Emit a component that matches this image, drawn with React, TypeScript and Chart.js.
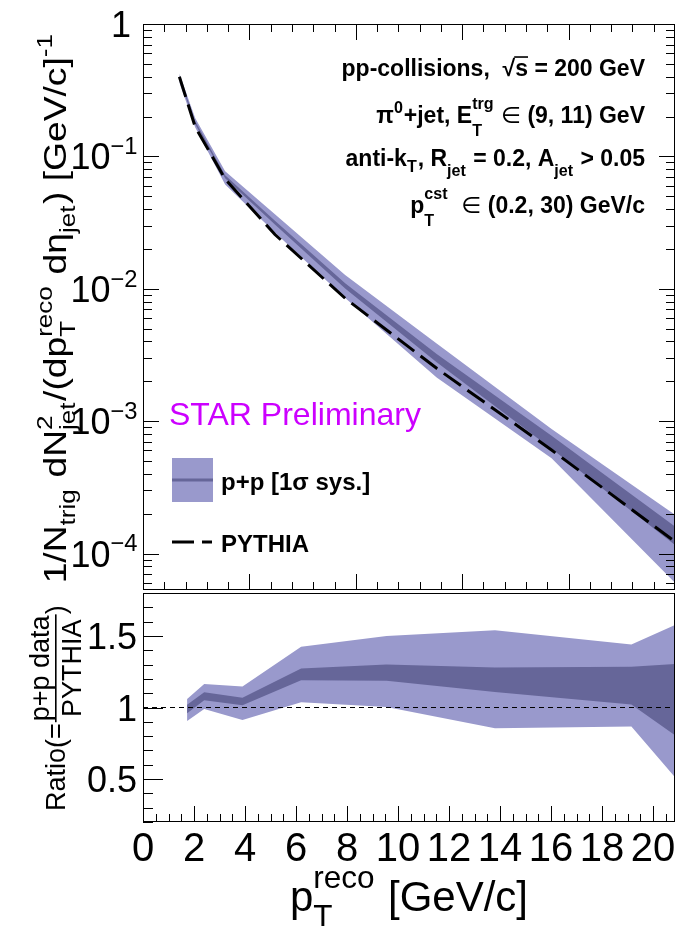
import React, { useEffect, useRef } from 'react';
import { Chart, registerables } from 'chart.js';
Chart.register(...registerables);

// ---------- data ----------
// upper panel: spectrum vs pT (GeV/c)
const ptTop = [1.71, 2.45, 3.86, 6.2, 9.5, 13.8, 19.2, 25];
const pythiaTop = [0.399, 0.1675, 0.0673, 0.0257, 0.00847, 0.002506, 0.000605, 0.000123];
const ppSysHi = [0.423, 0.195, 0.0772, 0.0366, 0.0127, 0.00386, 0.000871, 0.000196];
const ppInnerHi = [0.407, 0.1854, 0.0719, 0.0327, 0.011, 0.00321, 0.000777, 0.00016];
const ppInnerLo = [0.383, 0.1759, 0.0684, 0.0306, 0.01005, 0.00278, 0.000618, 0.000116];
const ppSysLo = [0.361, 0.1658, 0.0614, 0.02665, 0.0085, 0.00214, 0.000525, 0.00006];

// lower panel: ratio data / PYTHIA
const ptRatio = [1.73, 2.4, 3.9, 6.2, 9.55, 13.8, 19.15, 20.86];
const ratioSysHi = [1.06, 1.165, 1.147, 1.425, 1.5, 1.54, 1.44, 1.577];
const ratioInnerHi = [1.02, 1.107, 1.068, 1.273, 1.3, 1.28, 1.285, 1.304];
const ratioInnerLo = [0.96, 1.05, 1.016, 1.191, 1.187, 1.109, 1.021, 0.806];
const ratioSysLo = [0.905, 0.99, 0.913, 1.037, 1.004, 0.855, 0.868, 0.513];
const unityX = [0, 20.86];
const unityY = [1, 1];

// axes
const TOP_X_MIN = 0;
const TOP_X_MAX = 25;
const TOP_Y_MIN = 5.3e-5;
const TOP_Y_MAX = 1;
const RATIO_X_MIN = 0;
const RATIO_X_MAX = 20.86;
const RATIO_Y_MIN = 0.2;
const RATIO_Y_MAX = 1.8;

const topYTicks = [1, 0.1, 0.01, 0.001, 0.0001];
const topYBase = ['1', '10', '10', '10', '10'];
const topYExp = ['', '\u22121', '\u22122', '\u22123', '\u22124'];
const ratioTicks = [0.5, 1, 1.5];
const ratioTickLabels = ['0.5', '1', '1.5'];
const xTicks = [0, 2, 4, 6, 8, 10, 12, 14, 16, 18, 20];
const xTickLabels = ['0', '2', '4', '6', '8', '10', '12', '14', '16', '18', '20'];

// ---------- styles ----------
const LIGHT = 'rgb(153,153,204)';
const DARK = 'rgb(102,102,153)';
const MAGENTA = 'rgb(204,0,255)';
const FONT = '"Liberation Sans", Arial, Helvetica, "DejaVu Sans", sans-serif';
const NONE = 'rgba(0,0,0,0)';

type Seg = { t?: string; sup?: string; sub?: string; k?: number; up?: number; down?: number; over?: boolean; w?: string };

function segW(ctx: CanvasRenderingContext2D, s: Seg, base: number, w: string) {
  const ww = s.w ?? w;
  if (s.t !== undefined) {
    ctx.font = `${ww} ${base * (s.k ?? 1)}px ${FONT}`;
    return ctx.measureText(s.t).width;
  }
  const k = s.k ?? 0.7;
  ctx.font = `${ww} ${base * k}px ${FONT}`;
  return Math.max(s.sup ? ctx.measureText(s.sup).width : 0, s.sub ? ctx.measureText(s.sub).width : 0) + base * 0.04;
}

function drawRich(ctx: CanvasRenderingContext2D, segs: Seg[], x: number, y: number, base: number, w: string, align: string, color: string) {
  const ws = segs.map((s) => segW(ctx, s, base, w));
  const tot = ws.reduce((a, b) => a + b, 0);
  let cx = align === 'right' ? x - tot : align === 'center' ? x - tot / 2 : x;
  ctx.fillStyle = color;
  ctx.textAlign = 'left';
  ctx.textBaseline = 'alphabetic';
  segs.forEach((s, i) => {
    const ww = s.w ?? w;
    if (s.t !== undefined) {
      ctx.font = `${ww} ${base * (s.k ?? 1)}px ${FONT}`;
      ctx.fillText(s.t, cx, y);
      if (s.over) ctx.fillRect(cx - 1, y - base * 0.86, ws[i] + 1, Math.max(1.2, base * 0.07));
    } else {
      const k = s.k ?? 0.7;
      ctx.font = `${ww} ${base * k}px ${FONT}`;
      if (s.sup) ctx.fillText(s.sup, cx, y - base * (s.up ?? 0.45));
      if (s.sub) ctx.fillText(s.sub, cx, y + base * (s.down ?? 0.3));
    }
    cx += ws[i];
  });
  return tot;
}

function line(ctx: CanvasRenderingContext2D, x1: number, y1: number, x2: number, y2: number) {
  ctx.beginPath();
  ctx.moveTo(x1, y1);
  ctx.lineTo(x2, y2);
  ctx.stroke();
}

const crisp = (v: number) => Math.round(v) + 0.5;

const topDecor = {
  id: 'topDecor',
  afterDraw(chart: any) {
    const { ctx, chartArea: a, scales } = chart;
    const xs = scales.x;
    const ys = scales.y;
    ctx.save();
    ctx.strokeStyle = '#000';
    ctx.lineWidth = 1;
    ctx.strokeRect(a.left + 0.5, a.top + 0.5, a.right - a.left - 1, a.bottom - a.top - 1);
    // x ticks (top & bottom, inward)
    for (let v = TOP_X_MIN; v <= TOP_X_MAX; v++) {
      const px = crisp(xs.getPixelForValue(v));
      const len = v % 5 === 0 ? 16 : 8;
      line(ctx, px, a.bottom, px, a.bottom - len);
      line(ctx, px, a.top, px, a.top + len);
    }
    // log y ticks (left & right)
    for (let e = -5; e <= 0; e++) {
      for (let m = 1; m <= 9; m++) {
        const v = m * Math.pow(10, e);
        if (v < TOP_Y_MIN || v > TOP_Y_MAX * 1.0001) continue;
        const py = crisp(ys.getPixelForValue(v));
        const len = m === 1 ? 16 : 9;
        line(ctx, a.left, py, a.left + len, py);
        line(ctx, a.right, py, a.right - len, py);
      }
    }
    // y labels
    topYTicks.forEach((v, i) => {
      const py = ys.getPixelForValue(v);
      if (topYExp[i]) {
        drawRich(ctx, [{ t: topYBase[i] }, { sup: topYExp[i], k: 0.66, up: 0.42 }], 139, py + 13, 36, 'normal', 'right', '#000');
      } else {
        drawRich(ctx, [{ t: topYBase[i] }], 131, py + 13, 36, 'normal', 'right', '#000');
      }
    });
    // y title (rotated, slightly stretched along its length like the original)
    ctx.save();
    ctx.translate(66, 308);
    ctx.rotate(-Math.PI / 2);
    ctx.scale(1.2, 1);
    drawRich(
      ctx,
      [
        { t: '1/N' }, { sub: 'trig', down: 0.28 }, { t: ' dN' }, { sup: '2', sub: 'jet', up: 0.45, down: 0.28 },
        { t: '/(dp' }, { sup: 'reco', sub: 'T', up: 0.45, down: 0.28 }, { t: ' d\u03b7' }, { sub: 'jet', down: 0.28 },
        { t: ') [GeV/c]' }, { sup: '-1', up: 0.45 },
      ],
      0, 0, 31, 'normal', 'center', '#000'
    );
    ctx.restore();
    // annotations
    const RX = 645;
    const F = 23;
    drawRich(ctx, [{ t: 'pp-collisions,  ' }, { t: '\u221a' }, { t: 's', over: true }, { t: ' = 200 GeV' }], RX, 76, F, 'bold', 'right', '#000');
    drawRich(ctx, [{ t: '\u03c0' }, { sup: '0', up: 0.42 }, { t: '+jet, E' }, { sup: 'trg', sub: 'T', up: 0.6, down: 0.55 }, { t: ' \u2208', w: 'normal' }, { t: ' (9, 11) GeV' }], RX, 123, F, 'bold', 'right', '#000');
    drawRich(ctx, [{ t: 'anti-k' }, { sub: 'T', down: 0.25 }, { t: ', R' }, { sub: 'jet', down: 0.45 }, { t: ' = 0.2, A' }, { sub: 'jet', down: 0.45 }, { t: ' > 0.05' }], RX, 166, F, 'bold', 'right', '#000');
    drawRich(ctx, [{ t: 'p' }, { sup: 'cst', sub: 'T', up: 0.6, down: 0.55 }, { t: '  \u2208', w: 'normal' }, { t: ' (0.2, 30) GeV/c' }], RX, 213, F, 'bold', 'right', '#000');
    // STAR Preliminary
    drawRich(ctx, [{ t: 'STAR Preliminary' }], 169, 425, 32, 'normal', 'left', MAGENTA);
    // legend
    ctx.fillStyle = LIGHT;
    ctx.fillRect(172, 458, 41, 44);
    ctx.strokeStyle = DARK;
    ctx.lineWidth = 3;
    line(ctx, 172, 480, 213, 480);
    drawRich(ctx, [{ t: 'p+p [1\u03c3 sys.]' }], 221, 490, 24, 'bold', 'left', '#000');
    ctx.strokeStyle = '#000';
    ctx.lineWidth = 3;
    ctx.setLineDash([22, 8]);
    line(ctx, 172, 542, 212, 542);
    ctx.setLineDash([]);
    drawRich(ctx, [{ t: 'PYTHIA' }], 221, 552, 24, 'bold', 'left', '#000');
    ctx.restore();
  },
};

const botDecor = {
  id: 'botDecor',
  afterDraw(chart: any) {
    const { ctx, chartArea: a, scales } = chart;
    const xs = scales.x;
    const ys = scales.y;
    ctx.save();
    ctx.strokeStyle = '#000';
    ctx.lineWidth = 1;
    ctx.strokeRect(a.left + 0.5, a.top + 0.5, a.right - a.left - 1, a.bottom - a.top - 1);
    // x ticks bottom
    for (let i = 0; i <= Math.floor(RATIO_X_MAX * 2); i++) {
      const v = i / 2;
      const px = crisp(xs.getPixelForValue(v));
      const len = i % 4 === 0 ? 16 : 8;
      line(ctx, px, a.bottom, px, a.bottom - len);
    }
    // y ticks left
    for (let i = 2; i <= 18; i++) {
      const v = i / 10;
      const py = crisp(ys.getPixelForValue(v));
      const len = i % 5 === 0 ? 20 : 10;
      line(ctx, a.left, py, a.left + len, py);
    }
    // y labels
    ratioTicks.forEach((v, i) => {
      const py = ys.getPixelForValue(v);
      drawRich(ctx, [{ t: ratioTickLabels[i] }], 137, py + 13, 36, 'normal', 'right', '#000');
    });
    // x labels
    xTicks.forEach((v, i) => {
      const px = xs.getPixelForValue(v);
      drawRich(ctx, [{ t: xTickLabels[i] }], px, a.bottom + 39, 40, 'normal', 'center', '#000');
    });
    // x title
    drawRich(ctx, [{ t: 'p' }, { sup: 'reco', sub: 'T', k: 0.75, up: 0.55, down: 0.38 }, { t: ' [GeV/c]' }], 409, a.bottom + 89, 42, 'normal', 'center', '#000');
    // y title (rotated) with fraction
    ctx.save();
    ctx.translate(65, 220);
    ctx.rotate(-Math.PI / 2);
    ctx.fillStyle = '#000';
    ctx.textAlign = 'left';
    ctx.textBaseline = 'alphabetic';
    ctx.font = `normal 27px ${FONT}`;
    ctx.fillText('Ratio(=', 0, 0);
    const w1 = ctx.measureText('Ratio(=').width + 1;
    const numW = ctx.measureText('p+p data').width;
    const denW = ctx.measureText('PYTHIA').width;
    const fw = Math.max(numW, denW) + 2;
    ctx.fillText('p+p data', w1 + (fw - numW) / 2, -16);
    ctx.fillText('PYTHIA', w1 + (fw - denW) / 2, 16);
    ctx.fillRect(w1, -10, fw, 1.6);
    ctx.fillText(')', w1 + fw, 0);
    ctx.restore();
    ctx.restore();
  },
};

const pts = (xs: number[], ys: number[]) => xs.map((x, i) => ({ x, y: ys[i] }));

export default function App() {
  const topRef = useRef<HTMLCanvasElement>(null);
  const botRef = useRef<HTMLCanvasElement>(null);

  useEffect(() => {
    const common = {
      animation: false as const,
      responsive: false,
      devicePixelRatio: 1,
      events: [] as any[],
      plugins: { legend: { display: false }, tooltip: { enabled: false }, title: { display: false } },
    };
    const band = { pointRadius: 0, borderWidth: 0, borderColor: NONE, tension: 0, clip: 0 };

    const c1 = new Chart(topRef.current!, {
      type: 'line',
      data: {
        datasets: [
          { label: 'PYTHIA', data: pts(ptTop, pythiaTop), borderColor: '#000', borderWidth: 3, borderDash: [21, 8], pointRadius: 0, fill: false, order: 0, clip: 0 },
          { ...band, label: 'innerHi', data: pts(ptTop, ppInnerHi), fill: '+1', backgroundColor: DARK, order: 1 },
          { ...band, label: 'innerLo', data: pts(ptTop, ppInnerLo), fill: false, order: 1 },
          { ...band, label: 'sysHi', data: pts(ptTop, ppSysHi), fill: '+1', backgroundColor: LIGHT, order: 2 },
          { ...band, label: 'sysLo', data: pts(ptTop, ppSysLo), fill: false, order: 2 },
        ] as any,
      },
      options: {
        ...common,
        layout: { padding: { left: 143, right: 0, top: 24, bottom: 1 } },
        scales: {
          x: { type: 'linear', min: TOP_X_MIN, max: TOP_X_MAX, display: false },
          y: { type: 'logarithmic', min: TOP_Y_MIN, max: TOP_Y_MAX, display: false },
        },
      } as any,
      plugins: [topDecor],
    });

    const c2 = new Chart(botRef.current!, {
      type: 'line',
      data: {
        datasets: [
          { label: 'unity', data: pts(unityX, unityY), borderColor: '#000', borderWidth: 1, borderDash: [5, 4], pointRadius: 0, fill: false, order: 0, clip: 0 },
          { ...band, label: 'innerHi', data: pts(ptRatio, ratioInnerHi), fill: '+1', backgroundColor: DARK, order: 1 },
          { ...band, label: 'innerLo', data: pts(ptRatio, ratioInnerLo), fill: false, order: 1 },
          { ...band, label: 'sysHi', data: pts(ptRatio, ratioSysHi), fill: '+1', backgroundColor: LIGHT, order: 2 },
          { ...band, label: 'sysLo', data: pts(ptRatio, ratioSysLo), fill: false, order: 2 },
        ] as any,
      },
      options: {
        ...common,
        layout: { padding: { left: 143, right: 0, top: 2, bottom: 104 } },
        scales: {
          x: { type: 'linear', min: RATIO_X_MIN, max: RATIO_X_MAX, display: false },
          y: { type: 'linear', min: RATIO_Y_MIN, max: RATIO_Y_MAX, display: false },
        },
      } as any,
      plugins: [botDecor],
    });

    return () => {
      c1.destroy();
      c2.destroy();
    };
  }, []);

  return (
    <div style={{ position: 'absolute', left: 0, top: 0, width: 675, height: 926, background: '#fff' }}>
      <canvas ref={topRef} width={675} height={591} style={{ position: 'absolute', left: 0, top: 0, width: 675, height: 591 }} />
      <canvas ref={botRef} width={675} height={335} style={{ position: 'absolute', left: 0, top: 591, width: 675, height: 335 }} />
    </div>
  );
}
